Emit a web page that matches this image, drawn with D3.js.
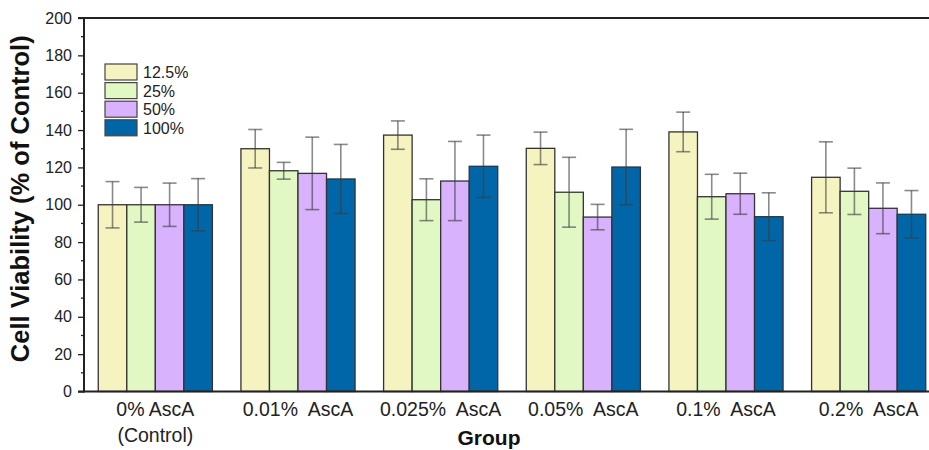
<!DOCTYPE html>
<html>
<head>
<meta charset="utf-8">
<script src="https://cdn.jsdelivr.net/npm/d3@7"></script>
<style>
  body { margin: 0; background: #fff; }
  text { font-family: "Liberation Sans", Arial, sans-serif; }
</style>
</head>
<body>
<div id="chart"></div>
<script>
// groups along the x axis (lines split on \n)
const groups = ["0% AscA\n(Control)", "0.01%  AscA", "0.025%  AscA", "0.05%  AscA", "0.1%  AscA", "0.2%  AscA"];
const series = ["12.5%", "25%", "50%", "100%"];
const colors = ["#F5F3C0", "#E1F7C4", "#D9B2FD", "#0066A8"];

// mean per series, one value per group
const means = [
  [100, 130.0, 137.3, 130.2, 139.0, 114.7],
  [100, 118.2, 102.7, 106.7, 104.3, 107.2],
  [100, 116.8, 112.7, 93.4, 105.9, 98.1],
  [100, 113.8, 120.6, 120.2, 93.6, 94.9]
];
// error (+/-) per series
const errors = [
  [12.4, 10.3, 7.6, 8.7, 10.6, 19.0],
  [9.3, 4.5, 11.2, 18.7, 12.0, 12.4],
  [11.6, 19.4, 21.2, 6.8, 11.0, 13.6],
  [14.0, 18.5, 16.7, 20.2, 12.8, 12.7]
];
const yTicks = [0, 20, 40, 60, 80, 100, 120, 140, 160, 180, 200];

const WIDTH = 929, HEIGHT = 450;
const margin = {left: 84, top: 18, bottom: 58};

const svg = d3.select("#chart").append("svg")
  .attr("width", WIDTH).attr("height", HEIGHT);

const x = d3.scaleBand()
  .domain(groups)
  .range([margin.left, margin.left + 856])
  .paddingInner(0.2)
  .paddingOuter(0.1);

const xs = d3.scaleBand()
  .domain(series)
  .range([0, x.bandwidth()]);

const y = d3.scaleLinear().domain([0, 200]).range([391.5, margin.top]);

// bars
const data = [];
groups.forEach((g, gi) => {
  series.forEach((s, si) => {
    data.push({g, s, si, v: means[si][gi], e: errors[si][gi]});
  });
});

svg.append("g").selectAll("rect")
  .data(data)
  .join("rect")
  .attr("x", d => x(d.g) + xs(d.s))
  .attr("y", d => y(d.v))
  .attr("width", xs.bandwidth())
  .attr("height", d => y(0) - y(d.v))
  .attr("fill", d => colors[d.si])
  .attr("stroke", "#333")
  .attr("stroke-width", 1.3);

// error bars
const eb = svg.append("g")
  .attr("stroke", "rgba(60,60,60,0.6)")
  .attr("stroke-width", 1.6);
const cap = 7;
data.forEach(d => {
  const cx = x(d.g) + xs(d.s) + xs.bandwidth() / 2;
  eb.append("line").attr("x1", cx).attr("x2", cx)
    .attr("y1", y(d.v + d.e)).attr("y2", y(d.v - d.e));
  eb.append("line").attr("x1", cx - cap).attr("x2", cx + cap)
    .attr("y1", y(d.v + d.e)).attr("y2", y(d.v + d.e));
  eb.append("line").attr("x1", cx - cap).attr("x2", cx + cap)
    .attr("y1", y(d.v - d.e)).attr("y2", y(d.v - d.e));
});

// y axis
const yAxis = d3.axisLeft(y).tickValues(yTicks).tickSize(6).tickPadding(6);
const gy = svg.append("g")
  .attr("transform", `translate(${margin.left},0)`)
  .call(yAxis);
gy.select(".domain").remove();
gy.selectAll(".tick line").attr("stroke", "#222").attr("stroke-width", 1.3);
gy.selectAll(".tick text").attr("font-size", 16).attr("fill", "#222")
  .style("font-family", "Liberation Sans, Arial, sans-serif");

// minor ticks
const minor = d3.range(10, 200, 20);
svg.append("g").selectAll("line")
  .data(minor)
  .join("line")
  .attr("x1", margin.left - 3).attr("x2", margin.left)
  .attr("y1", d => y(d)).attr("y2", d => y(d))
  .attr("stroke", "#222").attr("stroke-width", 1.3);

// frame lines
svg.append("line")
  .attr("x1", margin.left).attr("x2", margin.left)
  .attr("y1", y(200) - 1).attr("y2", y(0) + 1)
  .attr("stroke", "#222").attr("stroke-width", 2);
svg.append("line")
  .attr("x1", margin.left - 6).attr("x2", WIDTH)
  .attr("y1", y(0)).attr("y2", y(0))
  .attr("stroke", "#222").attr("stroke-width", 2);
svg.append("line")
  .attr("x1", margin.left - 6).attr("x2", WIDTH)
  .attr("y1", y(200)).attr("y2", y(200))
  .attr("stroke", "#222").attr("stroke-width", 2);

// x labels
const xl = svg.append("g");
groups.forEach(g => {
  const t = xl.append("text")
    .attr("x", x(g) + x.bandwidth() / 2)
    .attr("y", 416)
    .attr("text-anchor", "middle")
    .attr("font-size", 19.5)
    .attr("fill", "#222")
    .style("white-space", "pre");
  g.split("\n").forEach((line, i) => {
    t.append("tspan")
      .attr("x", x(g) + x.bandwidth() / 2)
      .attr("dy", i === 0 ? 0 : 26)
      .text(line);
  });
});

// axis titles
svg.append("text")
  .attr("x", 489).attr("y", 445)
  .attr("text-anchor", "middle")
  .attr("font-size", 21).attr("font-weight", "bold")
  .attr("fill", "#111")
  .text("Group");

svg.append("text")
  .attr("transform", `translate(29,${(y(0) + y(200)) / 2 - 6}) rotate(-90)`)
  .attr("text-anchor", "middle")
  .attr("font-size", 25.5).attr("font-weight", "bold")
  .attr("fill", "#111")
  .text("Cell Viability (% of Control)");

// legend
const legend = svg.append("g").attr("transform", "translate(105,64)");
series.forEach((s, i) => {
  const row = legend.append("g").attr("transform", `translate(0,${i * 18.6})`);
  row.append("rect")
    .attr("width", 32).attr("height", 16)
    .attr("fill", colors[i])
    .attr("stroke", "#444").attr("stroke-width", 1.2);
  row.append("text")
    .attr("x", 38).attr("y", 14)
    .attr("font-size", 16).attr("fill", "#222")
    .text(s);
});
</script>
</body>
</html>
